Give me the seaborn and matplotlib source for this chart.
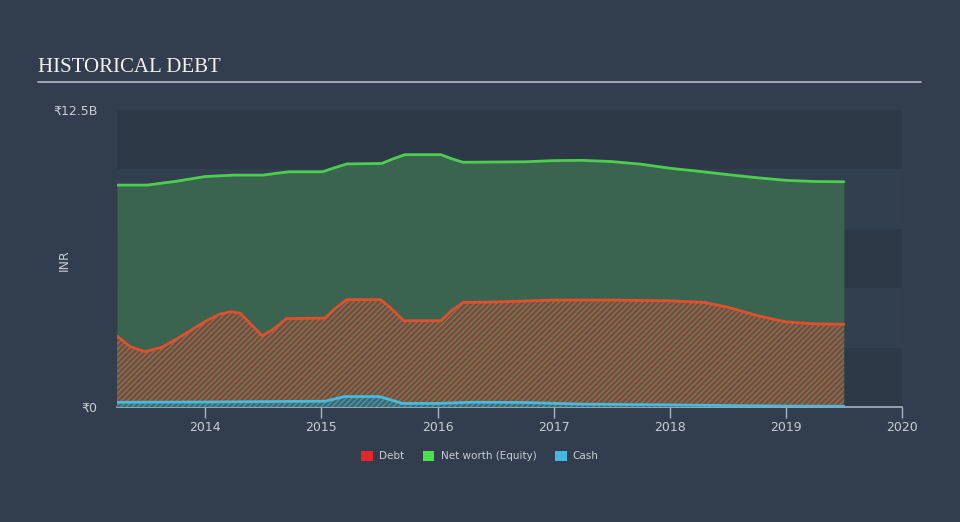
import matplotlib
matplotlib.use("Agg")
import matplotlib.pyplot as plt
import seaborn as sns
import pandas as pd
import numpy as np
from matplotlib.patches import Patch

# ---- data (billions INR, decimal years) ----
equity_t = [2013.24, 2013.50, 2013.75, 2014.00, 2014.25, 2014.50, 2014.62, 2014.72,
            2015.01, 2015.12, 2015.22, 2015.52, 2015.62, 2015.72, 2016.03, 2016.12,
            2016.22, 2016.75, 2017.00, 2017.25, 2017.50, 2017.75, 2018.00, 2018.25,
            2018.50, 2018.75, 2019.00, 2019.25, 2019.50]
equity_v = [9.34, 9.34, 9.50, 9.70, 9.76, 9.76, 9.84, 9.90,
            9.90, 10.08, 10.23, 10.25, 10.45, 10.62, 10.62, 10.45,
            10.30, 10.32, 10.37, 10.38, 10.33, 10.22, 10.05, 9.92,
            9.78, 9.65, 9.54, 9.49, 9.48]

debt_t = [2013.24, 2013.35, 2013.48, 2013.62, 2013.75, 2014.00, 2014.12, 2014.22,
          2014.30, 2014.40, 2014.49, 2014.58, 2014.70, 2015.03, 2015.12, 2015.22,
          2015.51, 2015.60, 2015.71, 2016.03, 2016.12, 2016.22, 2016.50, 2017.00,
          2017.50, 2018.00, 2018.30, 2018.50, 2018.75, 2019.00, 2019.25, 2019.50]
debt_v = [2.99, 2.55, 2.33, 2.50, 2.85, 3.60, 3.90, 4.01,
          3.95, 3.45, 3.00, 3.25, 3.72, 3.74, 4.15, 4.52,
          4.52, 4.15, 3.63, 3.63, 4.05, 4.40, 4.42, 4.50,
          4.50, 4.47, 4.40, 4.20, 3.85, 3.58, 3.50, 3.48]

cash_t = [2013.24, 2014.00, 2014.90, 2015.03, 2015.20, 2015.50, 2015.70, 2016.00,
          2016.30, 2016.75, 2017.25, 2018.00, 2018.50, 2019.00, 2019.50]
cash_v = [0.20, 0.21, 0.24, 0.24, 0.44, 0.44, 0.15, 0.15,
          0.20, 0.19, 0.12, 0.09, 0.06, 0.04, 0.03]

x_ticks = [2014, 2015, 2016, 2017, 2018, 2019, 2020]
y_ticks = [0, 12.5]
y_labels = ["₹0", "₹12.5B"]
legend_labels = ["Debt", "Net worth (Equity)", "Cash"]

# ---- styling ----
BG = "#323e4e"
BAND_DARK = "#2d3947"
BAND_LIGHT = "#323f4f"
TXT = "#c8cdd3"
C_EQ = "#4ccf4c"
C_DEBT = "#e0502c"
C_CASH = "#4ab9de"

sns.set_theme(style="white")
plt.rcParams["font.family"] = ["DejaVu Sans"]
plt.rcParams["hatch.linewidth"] = 0.9

fig = plt.figure(figsize=(9.6, 5.22), dpi=100, facecolor=BG)
ax = fig.add_axes([117/960, 1 - 407/522, (902-117)/960, (407-110)/522])
ax.set_facecolor(BG)

ax.set_xlim(2013.24, 2020)
ax.set_ylim(0, 12.5)

# background bands
for i in range(5):
    ax.axhspan(i*2.5, (i+1)*2.5, color=BAND_DARK if i % 2 == 0 else BAND_LIGHT, lw=0, zorder=0)

df_eq = pd.DataFrame({"t": equity_t, "v": equity_v})
df_debt = pd.DataFrame({"t": debt_t, "v": debt_v})
df_cash = pd.DataFrame({"t": cash_t, "v": cash_v})

ax.fill_between(df_eq.t, 0, df_eq.v, color="#3a6450", lw=0, zorder=1)
ax.fill_between(df_debt.t, 0, df_debt.v, facecolor="#5b5a4a",
                edgecolor=(0.86, 0.38, 0.22, 0.75), hatch="//////", lw=0, zorder=2)
ax.fill_between(df_cash.t, 0, df_cash.v, facecolor="#3e6a70",
                edgecolor=(0.29, 0.72, 0.87, 0.6), hatch="//////", lw=0, zorder=3)

sns.lineplot(data=df_eq, x="t", y="v", ax=ax, color=C_EQ, lw=2, zorder=5)
sns.lineplot(data=df_debt, x="t", y="v", ax=ax, color=C_DEBT, lw=2, zorder=5)
sns.lineplot(data=df_cash, x="t", y="v", ax=ax, color=C_CASH, lw=2, zorder=5)

ax.set_xlabel("")
ax.set_ylabel("")
fig.text(64/960, 1 - 260/522, "INR", rotation=90, color=TXT, fontsize=9,
         ha="center", va="center")
ax.set_xticks(x_ticks)
ax.set_xticklabels([str(t) for t in x_ticks], color=TXT, fontsize=9)
ax.set_yticks(y_ticks)
ax.set_yticklabels(y_labels, color=TXT, fontsize=9)
ax.tick_params(axis="x", length=8, width=1, color="#aab3bf", pad=2, bottom=True)
ax.tick_params(axis="y", length=0, pad=14)
for s in ["top", "right", "left"]:
    ax.spines[s].set_visible(False)
ax.spines["bottom"].set_color("#aab3bf")
ax.spines["bottom"].set_linewidth(1.2)
ax.grid(False)

# title + rule
fig.text(38/960, 1 - 67/522, "HISTORICAL DEBT", family=["Liberation Serif", "DejaVu Serif"],
         fontsize=15, color="#f0f0f0", va="center", ha="left")
fig.add_artist(plt.Line2D([38/960, 921/960], [1 - 82/522, 1 - 82/522], color="#a9b0ba", lw=1.3))

# legend
handles = [Patch(facecolor="#e8262a", edgecolor="none"),
           Patch(facecolor="#4be34b", edgecolor="none"),
           Patch(facecolor="#46b8e0", edgecolor="none")]
leg = fig.legend(handles, legend_labels, loc="center", bbox_to_anchor=(0.5, 1 - 456/522),
                 ncol=3, frameon=False, fontsize=7.5, handlelength=1.1, handleheight=1.1,
                 columnspacing=1.8, handletextpad=0.6)
for t in leg.get_texts():
    t.set_color(TXT)

fig.savefig("out.png", dpi=100, facecolor=BG)
